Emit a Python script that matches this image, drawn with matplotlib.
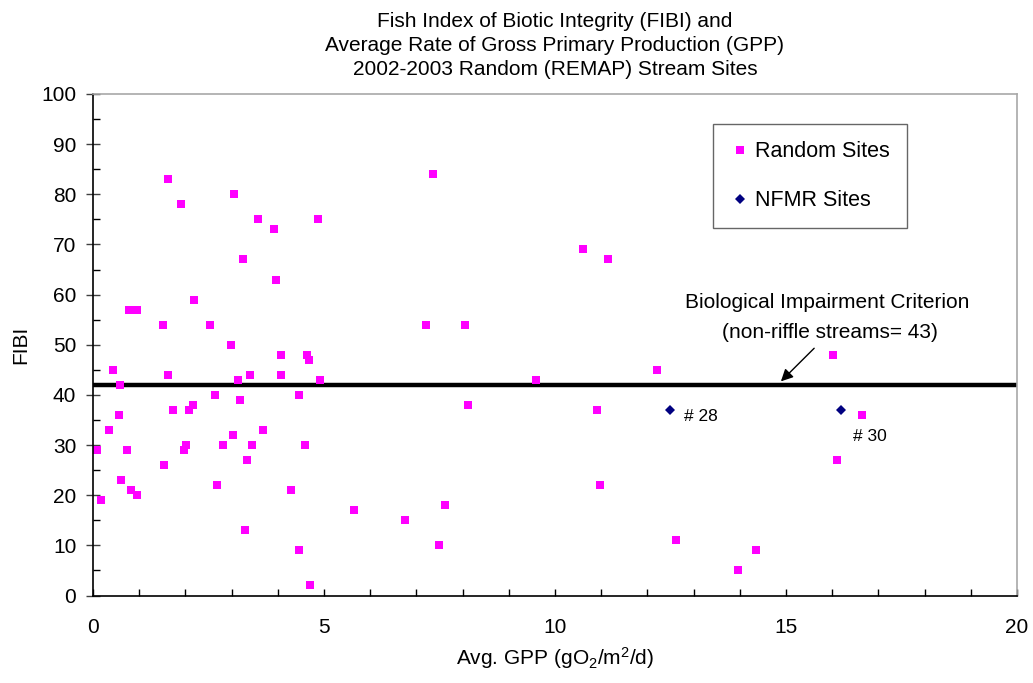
import matplotlib
matplotlib.use("Agg")
import matplotlib.pyplot as plt
from matplotlib.ticker import MultipleLocator

plt.rcParams['font.family'] = ['Liberation Sans', 'DejaVu Sans']
plt.rcParams['mathtext.default'] = 'regular'

# Random (REMAP) sites: GPP (x) and FIBI (y)
random_gpp = [1.63, 3.06, 1.91, 3.57, 4.87, 3.92, 3.24, 3.97, 2.18, 0.79, 0.96,
              1.51, 2.54, 2.99, 4.06, 4.64, 4.68, 0.43, 1.63, 3.39, 4.06, 3.14,
              4.92, 0.58, 2.64, 4.45, 3.19, 1.74, 2.08, 2.16, 0.56, 0.35, 3.69,
              3.04, 2.01, 2.81, 3.44, 4.60, 0.08, 0.73, 1.96, 1.54, 3.34, 0.60,
              2.69, 0.83, 4.29, 0.96, 0.17, 3.29, 4.45, 4.69,
              5.64, 6.75, 7.20, 7.35, 7.50, 7.63, 8.06, 8.11, 9.58, 10.60, 10.90,
              10.98, 11.14, 12.20, 12.63, 13.97, 14.36, 16.01, 16.10, 16.64]
random_fibi = [83, 80, 78, 75, 75, 73, 67, 63, 59, 57, 57,
               54, 54, 50, 48, 48, 47, 45, 44, 44, 44, 43,
               43, 42, 40, 40, 39, 37, 37, 38, 36, 33, 33,
               32, 30, 30, 30, 30, 29, 29, 29, 26, 27, 23,
               22, 21, 21, 20, 19, 13, 9, 2,
               17, 15, 54, 84, 10, 18, 54, 38, 43, 69, 37,
               22, 67, 45, 11, 5, 9, 48, 27, 36]

# NFMR sites
nfmr_gpp = [12.49, 16.19]
nfmr_fibi = [37, 37]
nfmr_labels = ["# 28", "# 30"]

criterion = 42

title = ("Fish Index of Biotic Integrity (FIBI) and\n"
         "Average Rate of Gross Primary Production (GPP)\n"
         "2002-2003 Random (REMAP) Stream Sites")

fig = plt.figure(figsize=(10.33, 6.83), dpi=100)
ax = fig.add_axes([0.0900, 0.1281, 0.8945, 0.7343])

ax.plot(random_gpp, random_fibi, linestyle='none', marker='s', markersize=6.2,
        color='#ff00ff', markeredgewidth=0, label='Random Sites')
ax.plot(nfmr_gpp, nfmr_fibi, linestyle='none', marker='D', markersize=4.8,
        color='#000080', markeredgewidth=0, label='NFMR Sites')

ax.axhline(criterion, color='black', linewidth=3.2, zorder=1)

ax.text(nfmr_gpp[0] + 0.3, nfmr_fibi[0] - 1.3, nfmr_labels[0], fontsize=12.5,
        ha='left', va='center')
ax.text(16.45, 31.7, nfmr_labels[1], fontsize=12.5, ha='left', va='center')

ax.text(15.9, 58.5, "Biological Impairment Criterion", fontsize=15,
        ha='center', va='center')
ax.text(15.95, 52.5, "(non-riffle streams= 43)", fontsize=15,
        ha='center', va='center')
ax.annotate("", xy=(14.89, 42.7), xytext=(15.61, 49.3),
            arrowprops=dict(arrowstyle='-|>', color='black', lw=1.0,
                            mutation_scale=18, shrinkA=0, shrinkB=0))

ax.set_xlim(0, 20)
ax.set_ylim(0, 100)
ax.xaxis.set_major_locator(MultipleLocator(5))
ax.xaxis.set_minor_locator(MultipleLocator(1))
ax.yaxis.set_major_locator(MultipleLocator(10))
ax.yaxis.set_minor_locator(MultipleLocator(5))
ax.tick_params(axis='x', which='both', direction='in', length=5, width=1,
               labelsize=15, pad=16)
ax.tick_params(axis='y', which='major', direction='inout', length=10, width=1,
               labelsize=15, pad=7, color='#404040')
ax.tick_params(axis='y', which='minor', direction='in', length=5, width=1)

for s in ['left', 'bottom']:
    ax.spines[s].set_color('black')
    ax.spines[s].set_linewidth(1.2)
for s in ['top', 'right']:
    ax.spines[s].set_color('#a8a8a8')
    ax.spines[s].set_linewidth(1.2)

ax.set_xlabel("Avg. GPP (gO$_2$/m$^2$/d)", fontsize=15, labelpad=6)
ax.set_ylabel("FIBI", fontsize=15, labelpad=8)
ax.set_title(title, fontsize=15, linespacing=1.32, pad=14)

leg = ax.legend(loc='upper left', bbox_to_anchor=(0.671, 0.9402),
                fontsize=15.5, frameon=True, fancybox=False, edgecolor='#404040',
                labelspacing=1.3, borderpad=0.8, handletextpad=0.25,
                handlelength=0.9, borderaxespad=0)
leg.get_frame().set_linewidth(1.0)

fig.savefig("out.png", dpi=100)
